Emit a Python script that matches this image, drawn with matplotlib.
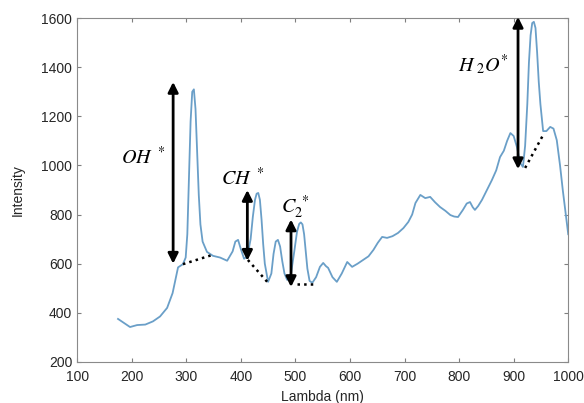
import numpy as np
import matplotlib
matplotlib.use('Agg')
import matplotlib.pyplot as plt

plt.rcParams['font.family'] = ['Liberation Sans', 'DejaVu Sans']
plt.rcParams['mathtext.fontset'] = 'stix'

# spectrum
wavelength = [175, 185, 197, 210, 225, 239, 252, 265, 275, 285, 294, 299, 302, 305, 308, 311, 314, 317,
              320, 323, 326, 330, 338, 349, 362, 375, 385, 390, 395, 400, 406, 412, 418, 422, 426, 429,
              432, 435, 438, 441, 444, 450, 456, 460, 464, 468, 472, 476, 480, 485, 492, 498, 503, 507,
              510, 513, 516, 519, 522, 526, 531, 538, 545, 551, 556, 560, 568, 576, 585, 595,
              604, 614, 624, 634, 643, 651, 659, 668, 678, 688, 698, 707, 714, 720, 729, 738, 747, 756,
              765, 775, 784, 791, 798, 807, 814, 820, 825, 829, 835, 842, 851, 860, 868, 875, 882, 888,
              894, 900, 906, 912, 917, 921, 925, 928, 931, 934, 937, 940, 943, 946, 949, 954, 960, 967,
              973, 979, 985, 990, 995, 1000]
intensity = [375, 360, 342, 350, 352, 365, 385, 420, 480, 585, 598, 625, 720, 950, 1180, 1300, 1310, 1230,
             1060, 880, 760, 690, 648, 632, 625, 612, 650, 690, 697, 660, 620, 630, 700, 790, 860, 885,
             888, 860, 780, 680, 600, 526, 560, 640, 690, 697, 670, 610, 560, 534, 560, 650, 730, 762,
             768, 760, 720, 650, 580, 530, 522, 545, 587, 603, 590, 583, 545, 526, 560, 607,
             587, 600, 615, 630, 656, 685, 709, 705, 712, 725, 745, 770, 800, 847, 880, 867, 872, 850,
             831, 815, 798, 792, 790, 819, 845, 851, 830, 819, 835, 860, 900, 940, 980, 1034, 1060, 1100,
             1132, 1120, 1075, 1010, 994, 1080, 1250, 1420, 1530, 1580, 1585, 1560, 1460, 1340, 1250, 1140, 1140, 1157,
             1150, 1103, 1000, 900, 810, 720]

# peak annotations: label, arrow x, arrow bottom, arrow top, label position, baseline (dotted)
labels = [r'$OH^{\ *}$', r'$CH^{\ *}$', r'$C_{2}^{\ *}$', r'$H_{\ 2}O^{*}$']
arrow_x = [276, 412, 492, 908]
arrow_lo = [600, 612, 505, 985]
arrow_hi = [1340, 900, 780, 1605]
label_xy = [(221, 1035), (404, 950), (500, 830), (844, 1410)]
base_x = [(294, 347), (413, 450), (503, 533), (921, 954)]
base_y = [(598, 635), (615, 522), (517, 517), (990, 1124)]

fig = plt.figure(figsize=(5.84, 4.03), dpi=100)
ax = fig.add_axes([0.132, 0.102, 0.841, 0.853])

ax.plot(wavelength, intensity, color='#6a9fc8', lw=1.3)

for i in range(len(labels)):
    ax.annotate('', xy=(arrow_x[i], arrow_lo[i]), xytext=(arrow_x[i], arrow_hi[i]),
                arrowprops=dict(arrowstyle='<|-|>,head_length=0.6,head_width=0.3', color='black', lw=2,
                                shrinkA=0, shrinkB=0))
    ax.text(label_xy[i][0], label_xy[i][1], labels[i], fontsize=14.5, ha='center', va='center')
    ax.plot(base_x[i], base_y[i], color='black', ls=':', lw=1.8)

ax.set_xlim(100, 1000)
ax.set_ylim(200, 1600)
ax.set_xticks(np.arange(100, 1001, 100))
ax.set_yticks(np.arange(200, 1601, 200))
ax.tick_params(direction='in', top=True, right=True, length=3, labelsize=10, colors='#7f7f7f',
               labelcolor='#262626')
ax.tick_params(axis='x', pad=6)
for s in ax.spines.values():
    s.set_color('#8a8a8a')
ax.set_xlabel('Lambda (nm)', fontsize=10, color='#262626', labelpad=4)
ax.set_ylabel('Intensity', fontsize=10, color='#262626', labelpad=12)

fig.savefig('out.png', dpi=100)
